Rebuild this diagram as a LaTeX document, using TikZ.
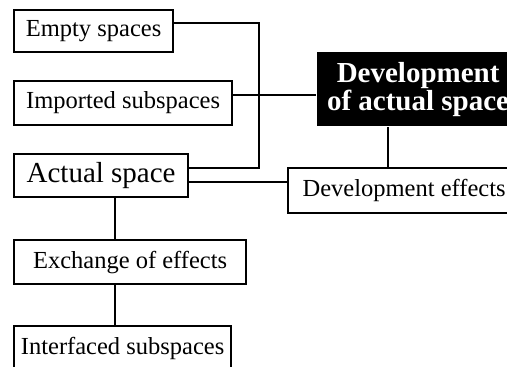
\documentclass[tikz,border=0pt]{standalone}
\usepackage{fontspec}
\setmainfont{Liberation Serif}
\begin{document}
\begin{tikzpicture}[x=1pt,y=-1pt,
  line width=2.2pt, line join=miter,
  box/.style={draw, line width=2.2pt, rectangle, anchor=north west, inner sep=0pt,
    font=\fontsize{24.5}{24.5}\selectfont},
  bigbox/.style={box, font=\fontsize{29}{29}\selectfont},
  darkbox/.style={rectangle, fill=black, text=white, anchor=north west, inner sep=0pt,
    align=center, font=\fontsize{29}{28}\selectfont\bfseries},
  link/.style={draw, line width=2.2pt}]
\useasboundingbox (0,0) rectangle (507,367);
\clip (0,0) rectangle (507,367);

% boxes on the left
\node[box, minimum width=159pt, minimum height=42pt] (empty) at (13,9) {Empty spaces};
\node[box, minimum width=218pt, minimum height=44pt] (imported) at (13,80) {Imported subspaces};
\node[bigbox, minimum width=174pt, minimum height=43pt] (actual) at (13,153) {Actual space};
\node[box, minimum width=232pt, minimum height=44pt] (exchange) at (13,239) {Exchange of effects};
\node[box, minimum width=217pt, minimum height=44pt] (interfaced) at (13,325) {Interfaced subspaces};

% boxes on the right
\node[darkbox, minimum width=202pt, minimum height=74pt] (dev) at (316,51)
  {Development\\of actual space};
\node[box, minimum width=232pt, minimum height=45pt] (devfx) at (287,167) {Development effects};

% connector routing points
\coordinate (jtop) at (259,23);
\coordinate (jbot) at (259,168);
\coordinate (jimp) at (0,95);
\coordinate (jfx) at (0,182);
\coordinate (vx) at (115,0);
\coordinate (dx) at (388,0);

% connectors
\draw[link] (empty.east |- jtop) -- (jtop) -- (jbot) -- (actual.east |- jbot);
\draw[link] (imported.east |- jimp) -- (dev.west |- jimp);
\draw[link] (actual.east |- jfx) -- (devfx.west |- jfx);
\draw[link] (dev.south -| dx) -- (devfx.north -| dx);
\draw[link] (actual.south -| vx) -- (exchange.north -| vx);
\draw[link] (exchange.south -| vx) -- (interfaced.north -| vx);
\end{tikzpicture}
\end{document}
